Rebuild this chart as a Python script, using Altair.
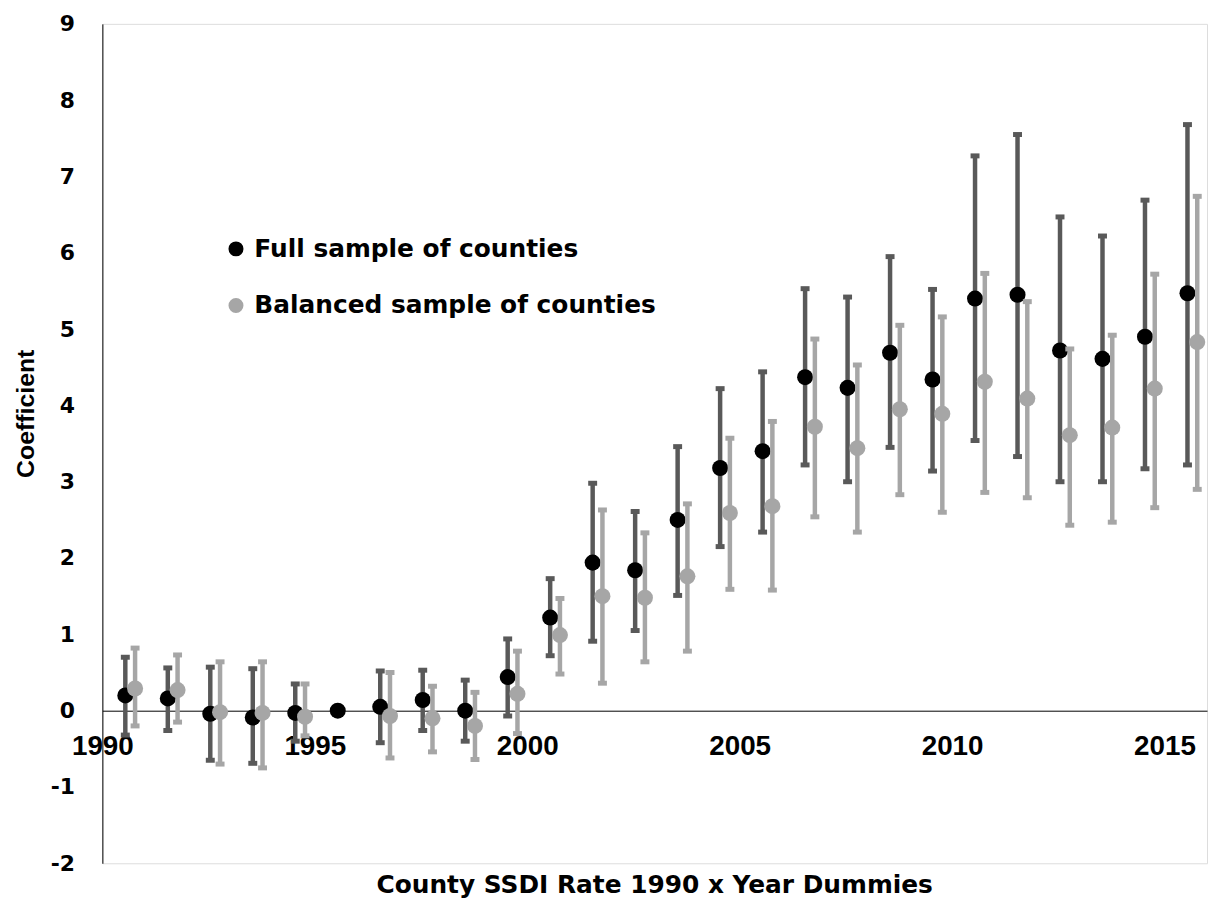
import altair as alt
import pandas as pd

years = list(range(1990, 2016))
full_coef = [0.20, 0.16, -0.04, -0.09, -0.03, 0.00, 0.05, 0.14, 0.00, 0.44, 1.22, 1.94, 1.84,
             2.50, 3.18, 3.40, 4.37, 4.23, 4.69, 4.34, 5.40, 5.45, 4.72, 4.61, 4.90, 5.47]
full_lo = [-0.32, -0.26, -0.65, -0.69, -0.40, None, -0.42, -0.26, -0.40, -0.07, 0.72, 0.91, 1.05,
           1.51, 2.15, 2.34, 3.22, 3.00, 3.45, 3.14, 3.54, 3.33, 3.00, 3.00, 3.17, 3.22]
full_hi = [0.70, 0.56, 0.57, 0.55, 0.35, None, 0.52, 0.53, 0.40, 0.94, 1.73, 2.98, 2.61,
           3.46, 4.22, 4.44, 5.53, 5.42, 5.95, 5.52, 7.27, 7.55, 6.47, 6.22, 6.69, 7.68]
bal_coef = [0.29, 0.27, -0.02, -0.03, -0.08, None, -0.07, -0.10, -0.20, 0.22, 0.99, 1.50, 1.48,
            1.76, 2.59, 2.68, 3.72, 3.44, 3.95, 3.89, 4.31, 4.09, 3.61, 3.71, 4.22, 4.83]
bal_lo = [-0.20, -0.15, -0.70, -0.75, -0.33, None, -0.62, -0.54, -0.64, -0.30, 0.48, 0.36, 0.64,
          0.78, 1.59, 1.58, 2.54, 2.34, 2.83, 2.60, 2.86, 2.79, 2.43, 2.47, 2.66, 2.90]
bal_hi = [0.82, 0.73, 0.64, 0.64, 0.35, None, 0.50, 0.32, 0.24, 0.78, 1.47, 2.63, 2.33,
          2.71, 3.57, 3.79, 4.87, 4.53, 5.05, 5.16, 5.73, 5.36, 4.74, 4.92, 5.72, 6.74]
series_names = ["Full sample of counties", "Balanced sample of counties"]
x_ticks = [1990, 1995, 2000, 2005, 2010, 2015]
y_ticks = list(range(-2, 10))

FULL_SHIFT = 0.54
BAL_SHIFT = 0.77

rows = []
for i, yr in enumerate(years):
    rows.append({"series": series_names[0], "year": yr, "xpos": yr + FULL_SHIFT,
                 "coef": full_coef[i], "lo": full_lo[i], "hi": full_hi[i]})
    rows.append({"series": series_names[1], "year": yr, "xpos": yr + BAL_SHIFT,
                 "coef": bal_coef[i], "lo": bal_lo[i], "hi": bal_hi[i]})
df = pd.DataFrame(rows)

xscale = alt.Scale(domain=[1990, 2016], nice=False, zero=False)
yscale = alt.Scale(domain=[-2, 9], nice=False, zero=False)

x_axis = alt.Axis(values=x_ticks, format="d", grid=False, ticks=False, domainColor="black",
                  domainWidth=1, offset=-153.6, labelFont="Liberation Sans", labelFontSize=28,
                  labelFontWeight="bold", labelColor="black", labelPadding=22, title=None,
                  labelFlush=False, labelOverlap=False)
y_axis = alt.Axis(values=y_ticks, grid=False, ticks=False, domainColor="black", domainWidth=1,
                  labelExpr="'' + datum.value",
                  labelFont="DejaVu Sans", labelFontSize=22, labelFontWeight="bold",
                  labelColor="black", labelPadding=28, title="Coefficient",
                  titleFont="Liberation Sans", titleFontSize=25, titleFontWeight="bold",
                  titleColor="black", titleX=-77, titleY=392, titleAngle=270,
                  titleBaseline="middle", titleAlign="center")

base = alt.Chart(df)

def bars(name, color):
    sub = base.transform_filter(alt.datum.series == name).transform_filter("isValid(datum.lo)")
    rule = sub.mark_rule(color=color, strokeWidth=4.5).encode(
        x=alt.X("xpos:Q", scale=xscale, axis=x_axis),
        y=alt.Y("lo:Q", scale=yscale, axis=y_axis),
        y2="hi:Q",
    )
    caps = sub.transform_fold(["lo", "hi"], as_=["end", "val"]).mark_tick(
        color=color, orient="horizontal", size=9, thickness=5, opacity=1
    ).encode(
        x=alt.X("xpos:Q", scale=xscale, axis=x_axis),
        y=alt.Y("val:Q", scale=yscale, axis=y_axis),
    )
    return rule, caps

def points(name):
    sub = base.transform_filter(alt.datum.series == name).transform_filter("isValid(datum.coef)")
    return sub.mark_point(filled=True, size=260, opacity=1, strokeWidth=0).encode(
        x=alt.X("xpos:Q", scale=xscale, axis=x_axis),
        y=alt.Y("coef:Q", scale=yscale, axis=y_axis),
        color=alt.Color("series:N",
                        scale=alt.Scale(domain=series_names, range=["#000000", "#a6a6a6"]),
                        legend=alt.Legend(title=None, orient="none", legendX=122, legendY=214,
                                          labelFont="DejaVu Sans", labelFontSize=25,
                                          labelFontWeight="bold", labelColor="black",
                                          symbolType="circle", symbolSize=227,
                                          symbolStrokeWidth=0, symbolOpacity=1,
                                          labelOffset=6, rowPadding=31, labelLimit=0)),
    )

fr, fc = bars(series_names[0], "#595959")
br, bc = bars(series_names[1], "#a6a6a6")
fp = points(series_names[0])
bp = points(series_names[1])

chart = alt.layer(fr, fc, fp, br, bc, bp).properties(
    width=1112, height=845,
    autosize=alt.AutoSizeParams(type="none"),
    padding={"left": 95, "top": 13, "right": 2, "bottom": 36},
    title=alt.TitleParams(text="County SSDI Rate 1990 x Year Dummies", orient="bottom",
                          anchor="middle", font="DejaVu Sans", fontSize=25, fontWeight="bold",
                          color="black", offset=-1),
).configure_view(strokeWidth=0, stroke="transparent").configure(background="white")

chart.save("out.html", embed_options={"renderer": "svg", "actions": False})
